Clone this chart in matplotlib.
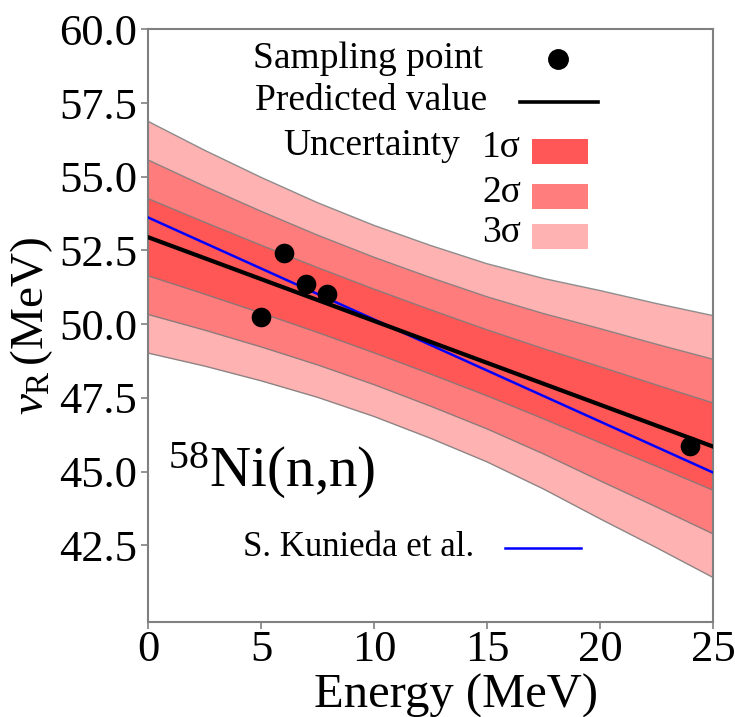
import matplotlib
matplotlib.use("Agg")
import matplotlib.pyplot as plt
from matplotlib import font_manager as fm
from matplotlib.patches import Rectangle
from matplotlib.lines import Line2D

SERIF = "Liberation Serif"
plt.rcParams["font.family"] = "serif"
plt.rcParams["font.serif"] = [SERIF, "DejaVu Serif"]
plt.rcParams["mathtext.fontset"] = "custom"
plt.rcParams["mathtext.rm"] = SERIF
plt.rcParams["mathtext.it"] = SERIF + ":italic"

# Sampling points (energy, v_R)
sample_energy = [5.0, 6.0, 7.0, 7.9, 24.0]
sample_vr = [50.24, 52.43, 51.36, 51.03, 45.88]

# Predicted mean and 1-sigma width on an energy grid
grid_energy = [0.0, 2.5, 5.0, 7.5, 10.0, 12.5, 15.0, 17.5, 20.0, 22.5, 25.0]
pred_mean = [52.95, 52.24, 51.53, 50.82, 50.11, 49.40, 48.69, 47.98, 47.27, 46.56, 45.85]
pred_sigma = [1.31, 1.22, 1.15, 1.10, 1.08, 1.09, 1.12, 1.19, 1.29, 1.38, 1.48]

# Reference systematics (S. Kunieda et al.)
kunieda_energy = [0.0, 25.0]
kunieda_vr = [53.62, 44.97]

x_ticks = [0, 5, 10, 15, 20, 25]
y_ticks = [42.5, 45.0, 47.5, 50.0, 52.5, 55.0, 57.5, 60.0]
sigma_levels = [3, 2, 1]

serif_file = fm.findfont(fm.FontProperties(family=SERIF))
tick_font = fm.FontProperties(fname=serif_file, size=32)

W, H = 735, 717
fig = plt.figure(figsize=(W / 100, H / 100), dpi=100)
ax = fig.add_axes([148 / W, 1 - 622 / H, 565 / W, 592.7 / H])


def fx(px):
    return px / W


def fy(py):
    return 1 - py / H


# Uncertainty bands: stacked translucent red
for k in sigma_levels:
    lo = [m - k * s for m, s in zip(pred_mean, pred_sigma)]
    hi = [m + k * s for m, s in zip(pred_mean, pred_sigma)]
    ax.fill_between(grid_energy, lo, hi, color="red", alpha=0.3, lw=0, zorder=1)
    ax.plot(grid_energy, lo, color="#7a7a7a", lw=1.0, alpha=0.85, zorder=2)
    ax.plot(grid_energy, hi, color="#7a7a7a", lw=1.0, alpha=0.85, zorder=2)

ax.plot(kunieda_energy, kunieda_vr, color="#0000ff", lw=1.8, zorder=3)
ax.plot(grid_energy, pred_mean, color="black", lw=3.0, zorder=4)
ax.scatter(sample_energy, sample_vr, s=200, color="black", zorder=5, lw=0)

ax.set_xlim(0, 25)
ax.set_ylim(39.9, 60)
ax.set_xticks(x_ticks)
ax.set_yticks(y_ticks)
ax.set_xticklabels([str(t) for t in x_ticks])
ax.set_yticklabels([f"{t:.1f}" for t in y_ticks])
ax.tick_params(axis="both", length=5, width=1.2, color="#808080")
ax.tick_params(axis="x", pad=1)
ax.tick_params(axis="y", pad=3)
for lbl in ax.get_xticklabels() + ax.get_yticklabels():
    lbl.set_fontproperties(tick_font)
for side in ["top", "right", "bottom", "left"]:
    ax.spines[side].set_color("#808080")
    ax.spines[side].set_linewidth(1.5)

ax.set_xlabel("Energy (MeV)", fontsize=35)
ax.xaxis.set_label_coords(0.545, -0.088)
ax.set_ylabel(r"$\mathit{v}_{\mathrm{R}}\,\mathrm{(MeV)}$", fontsize=34)
ax.yaxis.set_label_coords(-0.165, 0.5)

# Nuclide label
fig.text(fx(168), fy(487), r"$^{58}$Ni(n,n)", fontsize=41,
         ha="left", va="baseline")

# Legend block
fig.text(fx(253), fy(68), "Sampling point", fontsize=27, ha="left", va="baseline")
fig.add_artist(Line2D([fx(558)], [fy(59)], marker="o", markersize=14,
                      color="black", lw=0, transform=fig.transFigure))
fig.text(fx(255), fy(110), "Predicted value", fontsize=27, ha="left", va="baseline")
fig.add_artist(Line2D([fx(520), fx(598)], [fy(102), fy(102)], color="black",
                      lw=2.6, transform=fig.transFigure))
fig.text(fx(283), fy(155), "Uncertainty", fontsize=27, ha="left", va="baseline")

legend_colors = {1: "#ff5757", 2: "#ff7d7d", 3: "#ffb2b2"}
for k, base in zip([1, 2, 3], [157, 202, 242]):
    fig.text(fx(521), fy(base), f"{k}\u03c3", fontsize=27, ha="right", va="baseline")
    top = base - 18
    fig.add_artist(Rectangle((fx(532), fy(top + 25)), (588 - 532) / W, 25 / H,
                             facecolor=legend_colors[k], edgecolor="none",
                             transform=fig.transFigure))

fig.text(fx(243), fy(556), "S. Kunieda et al.", fontsize=25, ha="left", va="baseline")
fig.add_artist(Line2D([fx(505), fx(581)], [fy(548), fy(548)], color="#0000ff",
                      lw=1.8, transform=fig.transFigure))

fig.savefig("out.png", dpi=100)
